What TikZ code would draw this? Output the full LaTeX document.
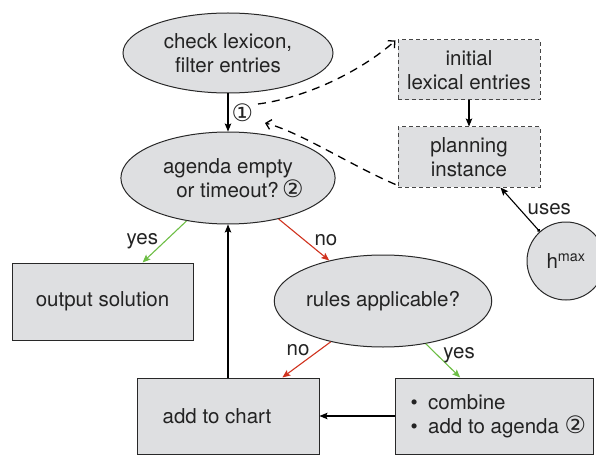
\documentclass[tikz,border=0pt]{standalone}
\usepackage{fontspec}
\setmainfont{TeX Gyre Heros}
\newfontfamily\circf{DejaVu Sans}
\newcommand\circnum[1]{{\circf\fontsize{24}{24}\selectfont #1}}
\usetikzlibrary{shapes.geometric,arrows.meta,shadows,calc}
\definecolor{boxfill}{RGB}{222,223,225}
\definecolor{boxline}{RGB}{40,40,40}
\definecolor{dashline}{RGB}{70,70,70}
\definecolor{yesgreen}{RGB}{110,190,70}
\definecolor{nored}{RGB}{208,50,30}
\definecolor{inktext}{RGB}{35,35,35}
\begin{document}
\begin{tikzpicture}[x=1pt,y=-1pt,
  every node/.style={font=\fontsize{20.5}{24}\selectfont, text=inktext},
  decision/.style={ellipse, draw=boxline, fill=boxfill, line width=1pt,
    inner sep=0pt, align=center},
  process/.style={rectangle, draw=boxline, fill=boxfill, line width=1pt,
    inner sep=0pt, align=center,
    drop shadow={shadow xshift=1.3pt, shadow yshift=-1.3pt, opacity=0.35}},
  resource/.style={rectangle, draw=dashline, fill=boxfill, line width=1pt,
    dash pattern=on 4pt off 3pt, inner sep=0pt, align=center},
  flow/.style={-{Stealth[length=8pt,width=6.5pt,inset=1.5pt]}, line width=1.1pt, black},
  yesflow/.style={flow, draw=yesgreen, -{Stealth[length=8pt,width=6.5pt,inset=1.5pt,color=yesgreen]}},
  noflow/.style={flow, draw=nored, -{Stealth[length=8pt,width=6.5pt,inset=1.5pt,color=nored]}},
  feed/.style={line width=1.3pt, black, dash pattern=on 8pt off 6pt,
    -{Straight Barb[length=5pt,width=10pt,line width=1.3pt]}},
  edgelabel/.style={inner sep=2pt}
]
\useasboundingbox (0,0) rectangle (596,457);

% decision ellipses
\node[decision, minimum width=210pt, minimum height=80pt] (lex) at (228,53)
  {check lexicon,\\filter entries};
\node[decision, minimum width=210pt, minimum height=92pt] (ag) at (228,178)
  {agenda empty\\\hspace*{24pt}or timeout?\,\circnum{②}};
\node[decision, minimum width=210pt, minimum height=92pt] (rules) at (383,301)
  {rules applicable?};

% planning resources
\node[resource, minimum width=142pt, minimum height=60pt] (init) at (469,70)
  {initial\\lexical entries};
\node[resource, minimum width=142pt, minimum height=60pt] (plan) at (469,157)
  {planning\\instance};
\node[circle, draw=boxline, fill=boxfill, line width=1pt, minimum size=78pt,
  inner sep=0pt] (hm) at (566,261) {h\textsuperscript{max}};

% process boxes
\node[process, minimum width=181pt, minimum height=77pt] (out) at (102.5,301.5)
  {output solution};
\node[process, minimum width=182pt, minimum height=76pt] (chart) at (228,416)
  {add to chart\hspace*{22pt}};
\node[process, minimum width=198pt, minimum height=76pt] (comb) at (494,416) {};
\node[anchor=west, align=left, inner sep=0pt] (combtext) at ($(comb.west)+(16,0)$)
  {\textbullet\enspace combine\\\textbullet\enspace add to agenda \circnum{②}};

% main flow
\draw[flow] (lex.south) -- node[right=3pt, inner sep=0pt] (n1) {\circnum{①}} (ag.north);
\draw[flow] (init.south) -- (plan.north);
\draw[flow] (chart.north) -- (ag.south);
\draw[flow] (comb.west) -- (chart.east);
\draw[flow, {Circle[length=3pt]}-{Stealth[length=8pt,width=6.5pt,inset=1.5pt]}]
  (hm) -- node[pos=0.5, right=5pt, edgelabel] {uses}
  ($(plan.south west)!0.72!(plan.south east)$);

% decisions
\draw[yesflow] (ag.226) -- node[pos=0.5, left=4pt, edgelabel] {yes}
  ($(out.north west)!0.72!(out.north east)$);
\draw[noflow] (ag.321) -- node[pos=0.5, right=8pt, edgelabel] {no} (rules.143);
\draw[noflow] (rules.218) -- node[pos=0.22, left=8pt, edgelabel] {no}
  ($(chart.north west)!0.797!(chart.north east)$);
\draw[yesflow] (rules.315) -- node[pos=0.35, right=3pt, edgelabel] {yes}
  ($(comb.north west)!0.33!(comb.north east)$);

% lexical entries feed the planner and return
\coordinate (d1) at (258,104);
\coordinate (d2) at (265,123);
\draw[feed] (d1) .. controls (305,98) and (360,72) .. ($(init.north west)+(-2,1)$);
\draw[feed] ($(plan.south west)+(-2,-3)$) .. controls (350,165) and (300,132) .. (d2);
\end{tikzpicture}
\end{document}
